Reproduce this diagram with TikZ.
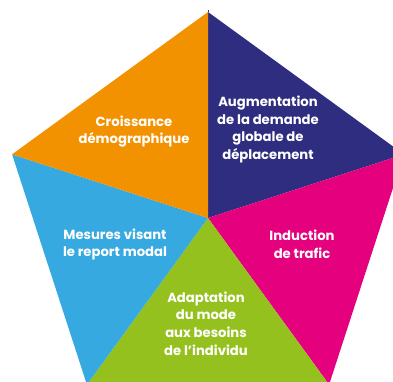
\documentclass[tikz,border=0pt]{standalone}
\usepackage{fontspec}
\setmainfont{Poppins}
\usetikzlibrary{positioning}

\definecolor{secorange}{HTML}{F39200}
\definecolor{secnavy}{HTML}{2E2D80}
\definecolor{secpink}{HTML}{E5007D}
\definecolor{secblue}{HTML}{36A9E1}
\definecolor{secgreen}{HTML}{95C11F}

\tikzset{
  label/.style={text=white, align=center, inner sep=0pt,
    font=\fontsize{13.2pt}{17.7pt}\selectfont\bfseries}
}

\begin{document}
\begin{tikzpicture}[x=1pt, y=1pt]
      \useasboundingbox (0,0) rectangle (393,-381);
      \clip (0,0) rectangle (393,-381);

      \coordinate (o) at (208,-218);
      \begin{scope}[shift={(o)}]
      \coordinate (1) at (90:206pt);
      \coordinate (2) at (18:206pt);
      \coordinate (3) at (-54:206pt);
      \coordinate (4) at (-126:206pt);
      \coordinate (5) at (162:206pt);
      \end{scope}

      % sectors
      \fill[secnavy]   (o)--(1)--(2)--cycle;
      \fill[secpink]   (o)--(2)--(3)--cycle;
      \fill[secgreen]  (o)--(3)--(4)--cycle;
      \fill[secblue]   (o)--(4)--(5)--cycle;
      \fill[secorange] (o)--(5)--(1)--cycle;
      \draw[line width=0.6pt, black!75] (1) -- ++(0,2);

      % texts
      \node[label] (croissance) at (134,-131.5) {Croissance\\d\'emographique};
      \node[label] (augmentation) at (268,-129.5) {Augmentation\\de la demande\\globale de\\d\'eplacement};
      \node[label] (induction) at (302,-244) {Induction\\de trafic};
      \node[label] (mesures) at (115,-244.5) {Mesures visant\\le report modal};
      \node[label] (adaptation) at (206,-323.5) {Adaptation\\du mode\\aux besoins\\de l’individu};
\end{tikzpicture}
\end{document}
